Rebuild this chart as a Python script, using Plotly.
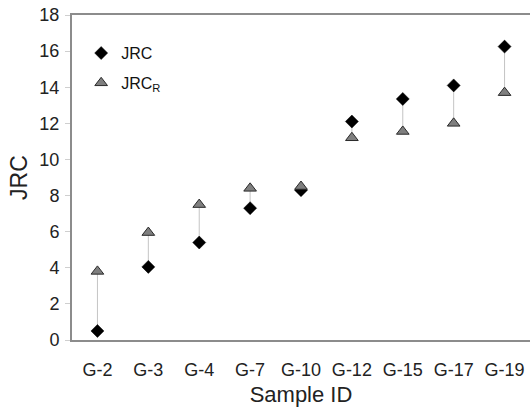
import plotly.graph_objects as go

# Sample identifiers and roughness coefficients
samples = ["G-2", "G-3", "G-4", "G-7", "G-10", "G-12", "G-15", "G-17", "G-19"]
jrc = [0.5, 4.05, 5.4, 7.3, 8.3, 12.1, 13.35, 14.1, 16.25]
jrc_r = [3.8, 5.95, 7.5, 8.4, 8.5, 11.2, 11.55, 12.0, 13.7]

FONT = "Liberation Sans, Arial, sans-serif"
AXIS_GREY = "#8c8c8c"
TEXT = "#222222"

# vertical connectors between paired values
cx, cy = [], []
for s, a, b in zip(samples, jrc, jrc_r):
    cx += [s, s, None]
    cy += [a, b, None]

fig = go.Figure()
fig.add_trace(go.Scatter(
    x=cx, y=cy, mode="lines", line=dict(color="#c4c4c4", width=1),
    showlegend=False, hoverinfo="skip"))
fig.add_trace(go.Scatter(
    x=samples, y=jrc, mode="markers", name="JRC", legendgroup="a",
    marker=dict(symbol="diamond", size=10, color="#000000",
                line=dict(color="#000000", width=0.5))))
fig.add_trace(go.Scatter(
    x=samples, y=jrc_r, mode="markers", name="JRC<sub>R</sub>", legendgroup="b",
    marker=dict(symbol="triangle-up", size=11, color="#7f7f7f",
                line=dict(color="#2a2a2a", width=1))))

fig.update_layout(
    width=530, height=411,
    margin=dict(l=72, r=0, t=15, b=71),
    plot_bgcolor="white", paper_bgcolor="white",
    font=dict(family=FONT, size=18, color=TEXT),
    legend=dict(x=0.02, y=0.935, xanchor="left", yanchor="top",
                bgcolor="rgba(0,0,0,0)", font=dict(size=16, color="#111111"),
                tracegroupgap=6, itemwidth=30),
    xaxis=dict(
        type="category", categoryorder="array", categoryarray=samples,
        range=[-0.5, 8.5], showgrid=False, zeroline=False,
        showline=True, linecolor=AXIS_GREY, linewidth=2, mirror=True,
        ticks="", ticklabelstandoff=12, tickfont=dict(size=18, color=TEXT),
        title=dict(text="Sample ID", font=dict(size=22, color=TEXT), standoff=8)),
    yaxis=dict(
        range=[0, 18], dtick=2, showgrid=False, zeroline=False,
        showline=True, linecolor=AXIS_GREY, linewidth=2,
        ticks="outside", ticklen=5, tickcolor="#cfcfcf", tickwidth=1,
        ticklabelstandoff=2, tickfont=dict(size=18, color=TEXT),
        title=dict(text="JRC", font=dict(size=23, color=TEXT), standoff=5)),
)

fig.write_html("out.html")
